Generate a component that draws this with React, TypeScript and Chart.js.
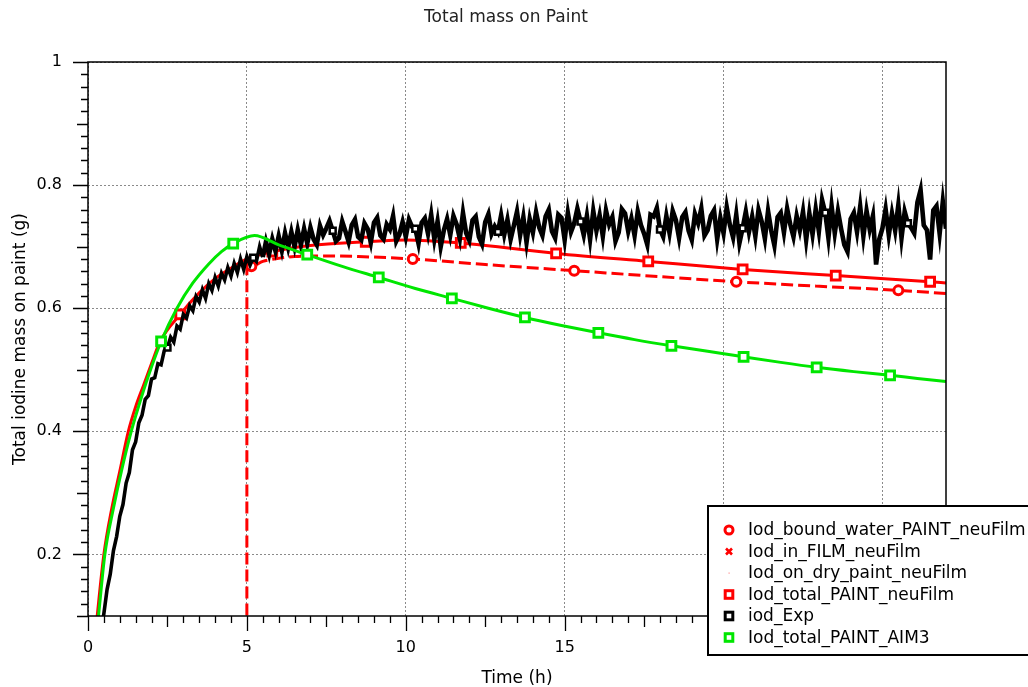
import { useEffect, useRef } from 'react';
import { Chart, registerables } from 'chart.js';

Chart.register(...registerables);

// ---------- text ----------
const chartTitle = 'Total mass on Paint';
const xAxisTitle = 'Time (h)';
const yAxisTitle = 'Total iodine mass on paint (g)';
const xTickValues = [0, 5, 10, 15, 20, 25];
const yTickValues = [0.2, 0.4, 0.6, 0.8, 1];
const seriesNames = [
  'Iod_bound_water_PAINT_neuFilm',
  'Iod_in_FILM_neuFilm',
  'Iod_on_dry_paint_neuFilm',
  'Iod_total_PAINT_neuFilm',
  'iod_Exp',
  'Iod_total_PAINT_AIM3',
];

// ---------- data ----------
// Iod_bound_water_PAINT_neuFilm (red dashed, circles)
const boundWaterTime = [0, 4.999, 5.0, 5.14, 5.5, 6.0, 6.5, 7.5, 8.5, 10.22, 12.5, 15.3, 17.8, 20.4, 22.9, 25.5, 27];
const boundWaterMass = [0, 0, 0.663, 0.668, 0.676, 0.681, 0.684, 0.685, 0.684, 0.68, 0.671, 0.661, 0.652, 0.643, 0.636, 0.629, 0.624];
const boundWaterMarkerTimes = [5.14, 10.22, 15.3, 20.4, 25.5];

// Iod_in_FILM_neuFilm (below the visible range)
const filmTime = [0, 1, 2, 3, 4, 5, 5.01, 10, 15, 20, 27];
const filmMass = [0, 0.01, 0.015, 0.018, 0.02, 0.021, 0, 0, 0, 0, 0];

// Iod_on_dry_paint_neuFilm (below the visible range)
const dryPaintTime = [0, 5, 10, 15, 20, 27];
const dryPaintMass = [0, 0.017, 0.031, 0.027, 0.02, 0.017];

// Iod_total_PAINT_neuFilm (red solid, squares)
const totalNeuTime = [0.1, 0.29, 0.5, 0.75, 1.0, 1.27, 1.5, 1.75, 2.0, 2.27, 2.9, 3.5, 4.0, 4.5, 5.0, 5.8, 7.0, 8.74, 10.0, 11.73, 14.73, 17.63, 20.6, 23.53, 26.5, 27];
const totalNeuMass = [0, 0.1, 0.2, 0.275, 0.335, 0.4, 0.44, 0.475, 0.51, 0.546, 0.59, 0.625, 0.648, 0.665, 0.68, 0.692, 0.702, 0.708, 0.711, 0.706, 0.689, 0.676, 0.663, 0.653, 0.643, 0.641];
const totalNeuMarkerTimes = [2.9, 5.8, 8.74, 11.73, 14.73, 17.63, 20.6, 23.53, 26.5];

// Iod_total_PAINT_AIM3 (green, squares)
const aim3Time = [0.12, 0.33, 0.53, 0.8, 1.05, 1.35, 1.6, 1.9, 2.3, 2.8, 3.3, 3.8, 4.2, 4.57, 5.24, 6.0, 6.9, 8.0, 9.15, 10.3, 11.45, 12.6, 13.75, 14.9, 16.06, 17.2, 18.36, 19.5, 20.63, 21.8, 22.93, 24.1, 25.24, 26.1, 27];
const aim3Mass = [0, 0.1, 0.2, 0.275, 0.335, 0.398, 0.442, 0.49, 0.546, 0.6, 0.641, 0.672, 0.692, 0.705, 0.718, 0.703, 0.687, 0.668, 0.65, 0.632, 0.616, 0.6, 0.585, 0.572, 0.56, 0.549, 0.539, 0.53, 0.521, 0.512, 0.504, 0.497, 0.491, 0.486, 0.481];
const aim3MarkerTimes = [2.3, 4.57, 6.9, 9.15, 11.45, 13.75, 16.06, 18.36, 20.63, 22.93, 25.24];

// iod_Exp (black, measured every 0.1 h from 0.4 h)
const expStartTime = 0.4;
const expTimeStep = 0.1;
const expMass = [
  0.070, 0.104, 0.143, 0.168, 0.206, 0.229,
  0.262, 0.281, 0.316, 0.333, 0.370, 0.383, 0.414, 0.426, 0.452, 0.458,
  0.485, 0.487, 0.510, 0.508, 0.531, 0.536, 0.553, 0.545, 0.571, 0.566,
  0.590, 0.584, 0.604, 0.596, 0.619, 0.610, 0.630, 0.616, 0.640, 0.629,
  0.650, 0.636, 0.657, 0.646, 0.666, 0.652, 0.673, 0.658, 0.680, 0.663,
  0.684, 0.670, 0.682, 0.676, 0.700, 0.683, 0.708, 0.688, 0.712, 0.693,
  0.717, 0.694, 0.722, 0.699, 0.724, 0.700, 0.727, 0.703, 0.729, 0.705,
  0.731, 0.712, 0.703, 0.734, 0.719, 0.730, 0.742, 0.726, 0.709, 0.714,
  0.741, 0.725, 0.708, 0.735, 0.744, 0.716, 0.711, 0.738, 0.729, 0.707,
  0.739, 0.747, 0.718, 0.712, 0.736, 0.728, 0.750, 0.709, 0.720, 0.740,
  0.716, 0.744, 0.732, 0.729, 0.705, 0.739, 0.746, 0.721, 0.752, 0.712,
  0.741, 0.700, 0.727, 0.745, 0.719, 0.750, 0.736, 0.713, 0.755, 0.722,
  0.710, 0.743, 0.749, 0.716, 0.704, 0.740, 0.753, 0.721, 0.733, 0.724,
  0.751, 0.720, 0.744, 0.712, 0.734, 0.757, 0.719, 0.748, 0.707, 0.745,
  0.723, 0.756, 0.731, 0.718, 0.749, 0.760, 0.725, 0.714, 0.752, 0.747,
  0.711, 0.755, 0.724, 0.738, 0.762, 0.741, 0.719, 0.750, 0.712, 0.758,
  0.726, 0.751, 0.717, 0.759, 0.736, 0.748, 0.709, 0.723, 0.761, 0.754,
  0.725, 0.746, 0.718, 0.757, 0.735, 0.721, 0.703, 0.752, 0.749, 0.763,
  0.728, 0.716, 0.750, 0.722, 0.758, 0.743, 0.714, 0.748, 0.756, 0.726,
  0.711, 0.753, 0.738, 0.762, 0.718, 0.727, 0.750, 0.759, 0.712, 0.747,
  0.722, 0.764, 0.735, 0.715, 0.752, 0.706, 0.730, 0.757, 0.724, 0.749,
  0.717, 0.760, 0.741, 0.713, 0.758, 0.726, 0.702, 0.748, 0.755, 0.723,
  0.762, 0.736, 0.716, 0.750, 0.727, 0.757, 0.711, 0.754, 0.720, 0.761,
  0.725, 0.776, 0.755, 0.714, 0.766, 0.722, 0.758, 0.729, 0.703, 0.692,
  0.745, 0.755, 0.724, 0.765, 0.717, 0.758, 0.728, 0.750, 0.671, 0.712,
  0.730, 0.761, 0.719, 0.754, 0.726, 0.768, 0.714, 0.757, 0.738, 0.731,
  0.722, 0.772, 0.792, 0.735, 0.727, 0.679, 0.759, 0.766, 0.721, 0.773,
  0.729,
];
const expMarkerTimes = [2.5, 5.2, 7.7, 10.3, 12.9, 15.5, 18.0, 20.6, 23.2, 25.8];

// ---------- styles ----------
const RED = '#ff0000';
const GREEN = 'rgb(0,230,0)';
const BLACK = '#000000';
const FONT = '"DejaVu Sans", "Liberation Sans", sans-serif';

const toPoints = (xs: number[], ys: number[]) => xs.map((x, i) => ({ x, y: ys[i] }));
const markerRadius = (times: number[], r: number) => (c: any) => {
  const p = c.raw;
  if (!p) return 0;
  return times.some((t) => Math.abs(t - p.x) < 1e-6) ? r : 0;
};

const framePlugin = {
  id: 'frameAndTicks',
  afterDatasetsDraw(chart: any) {
    const { ctx, chartArea: a, scales } = chart;
    const xs = scales.x;
    const ys = scales.y;
    ctx.save();
    ctx.strokeStyle = '#000';
    ctx.lineWidth = 1.5;
    ctx.strokeRect(a.left, a.top, a.right - a.left, a.bottom - a.top);
    ctx.lineWidth = 1.3;
    ctx.beginPath();
    for (let k = 0; k <= 54; k++) {
      const px = Math.round(xs.getPixelForValue(k * 0.5)) + 0.5;
      const len = k % 10 === 0 ? 15 : k % 5 === 0 ? 11 : 7;
      ctx.moveTo(px, a.bottom);
      ctx.lineTo(px, a.bottom + len);
    }
    for (let k = 5; k <= 50; k++) {
      const py = Math.round(ys.getPixelForValue(k * 0.02)) + 0.5;
      const len = k % 10 === 0 ? 15 : k % 5 === 0 ? 11 : 7;
      ctx.moveTo(a.left - len, py);
      ctx.lineTo(a.left, py);
    }
    ctx.stroke();
    ctx.restore();
  },
};

const titlePlugin = {
  id: 'plainTitle',
  afterDraw(chart: any) {
    const { ctx } = chart;
    ctx.save();
    ctx.font = `17px ${FONT}`;
    ctx.fillStyle = '#222';
    ctx.textAlign = 'center';
    ctx.textBaseline = 'middle';
    ctx.fillText(chartTitle, 506, 18);
    ctx.restore();
  },
};

type MarkerKind = 'circle' | 'cross' | 'dot' | 'square';
const legendMarkers: MarkerKind[] = ['circle', 'cross', 'dot', 'square', 'square', 'square'];
const legendColors = [RED, RED, '#ff9090', RED, BLACK, GREEN];

const legendPlugin = {
  id: 'boxLegend',
  afterDraw(chart: any) {
    const { ctx, chartArea: a } = chart;
    const left = a.right - 238;
    const top = a.bottom - 110;
    ctx.save();
    ctx.fillStyle = '#fff';
    ctx.fillRect(left, top, 340, 149);
    ctx.strokeStyle = '#000';
    ctx.lineWidth = 2;
    ctx.strokeRect(left, top, 340, 149);
    ctx.font = `17px ${FONT}`;
    ctx.textBaseline = 'middle';
    ctx.textAlign = 'left';
    seriesNames.forEach((name, i) => {
      const cy = top + 24 + i * 21.5;
      const cx = left + 21;
      const col = legendColors[i];
      ctx.strokeStyle = col;
      ctx.fillStyle = '#fff';
      ctx.lineWidth = 3;
      const kind = legendMarkers[i];
      if (kind === 'circle') {
        ctx.beginPath();
        ctx.arc(cx, cy, 4, 0, Math.PI * 2);
        ctx.fill();
        ctx.stroke();
      } else if (kind === 'cross') {
        ctx.lineWidth = 2.6;
        ctx.beginPath();
        ctx.moveTo(cx - 3, cy - 3);
        ctx.lineTo(cx + 3, cy + 3);
        ctx.moveTo(cx + 3, cy - 3);
        ctx.lineTo(cx - 3, cy + 3);
        ctx.stroke();
      } else if (kind === 'dot') {
        ctx.fillStyle = col;
        ctx.fillRect(cx - 0.5, cy - 0.5, 1.2, 1.2);
      } else {
        ctx.fillRect(cx - 3.8, cy - 3.8, 7.6, 7.6);
        ctx.strokeRect(cx - 3.8, cy - 3.8, 7.6, 7.6);
      }
      ctx.fillStyle = '#000';
      ctx.fillText(name, left + 40, cy + 1);
    });
    ctx.restore();
  },
};

export default function App() {
  const canvasRef = useRef<HTMLCanvasElement | null>(null);

  useEffect(() => {
    const canvas = canvasRef.current;
    if (!canvas) return;

    const expPoints = expMass.map((m, i) => ({ x: +(expStartTime + i * expTimeStep).toFixed(2), y: m }));

    const chart = new Chart(canvas, {
      type: 'line',
      data: {
        datasets: [
          {
            label: seriesNames[5],
            data: toPoints(aim3Time, aim3Mass),
            borderColor: GREEN,
            backgroundColor: '#fff',
            borderWidth: 3,
            cubicInterpolationMode: 'monotone',
            pointStyle: 'rect',
            pointRadius: markerRadius(aim3MarkerTimes, 6.2),
            pointBorderWidth: 3,
            pointBorderColor: GREEN,
            pointBackgroundColor: '#fff',
            order: 0,
          },
          {
            label: seriesNames[4],
            data: expPoints,
            borderColor: BLACK,
            backgroundColor: '#fff',
            borderWidth: 3.4,
            segment: {
              borderWidth: (c: any) => (c.p0.parsed.x >= 5.5 ? 4.6 : 3.6),
            },
            tension: 0,
            pointStyle: 'rect',
            pointRadius: markerRadius(expMarkerTimes, 4.2),
            pointBorderWidth: 2.5,
            pointBorderColor: BLACK,
            pointBackgroundColor: '#fff',
            order: 1,
          },
          {
            label: seriesNames[0],
            data: toPoints(boundWaterTime, boundWaterMass),
            borderColor: RED,
            backgroundColor: '#fff',
            borderWidth: 3,
            borderDash: [12, 5],
            cubicInterpolationMode: 'monotone',
            pointStyle: 'circle',
            pointRadius: markerRadius(boundWaterMarkerTimes, 4.5),
            pointBorderWidth: 3,
            pointBorderColor: RED,
            pointBackgroundColor: '#fff',
            order: 2,
          },
          {
            label: seriesNames[3],
            data: toPoints(totalNeuTime, totalNeuMass),
            borderColor: RED,
            backgroundColor: '#fff',
            borderWidth: 3,
            cubicInterpolationMode: 'monotone',
            pointStyle: 'rect',
            pointRadius: markerRadius(totalNeuMarkerTimes, 6.2),
            pointBorderWidth: 3,
            pointBorderColor: RED,
            pointBackgroundColor: '#fff',
            order: 3,
          },
          {
            label: seriesNames[1],
            data: toPoints(filmTime, filmMass),
            borderColor: RED,
            borderWidth: 2,
            pointStyle: 'crossRot',
            pointRadius: 4,
            pointBorderColor: RED,
            order: 4,
          },
          {
            label: seriesNames[2],
            data: toPoints(dryPaintTime, dryPaintMass),
            borderColor: '#ff9090',
            borderWidth: 1,
            pointRadius: 1,
            order: 5,
          },
        ],
      },
      options: {
        responsive: false,
        animation: false,
        events: [],
        layout: { padding: { top: 62, right: 82, bottom: 0, left: 0 } },
        plugins: {
          legend: { display: false },
          tooltip: { enabled: false },
          title: { display: false },
        },
        scales: {
          x: {
            type: 'linear',
            min: 0,
            max: 27,
            afterBuildTicks: (s: any) => {
              s.ticks = xTickValues.map((v) => ({ value: v }));
            },
            afterFit: (s: any) => {
              s.height = 71;
            },
            grid: { color: '#8a8a8a', lineWidth: 1, drawTicks: false },
            border: { display: false, dash: [2, 2] },
            ticks: {
              padding: 22,
              maxRotation: 0,
              autoSkip: false,
              color: '#000',
              font: { family: FONT, size: 16 },
              callback: (v: any) => String(v),
            },
            title: {
              display: true,
              text: xAxisTitle,
              color: '#000',
              font: { family: FONT, size: 17 },
              padding: { top: 0, bottom: -2 },
            },
          },
          y: {
            type: 'linear',
            min: 0.1,
            max: 1,
            afterBuildTicks: (s: any) => {
              s.ticks = yTickValues.map((v) => ({ value: v }));
            },
            afterFit: (s: any) => {
              s.width = 88;
            },
            grid: { color: '#8a8a8a', lineWidth: 1, drawTicks: false },
            border: { display: false, dash: [2, 2] },
            ticks: {
              padding: 26,
              autoSkip: false,
              color: '#000',
              font: { family: FONT, size: 16 },
              callback: (v: any) => String(v),
            },
            title: {
              display: true,
              text: yAxisTitle,
              color: '#000',
              font: { family: FONT, size: 17 },
              padding: { top: 10, bottom: 0 },
            },
          },
        },
      },
      plugins: [framePlugin, titlePlugin, legendPlugin],
    } as any);

    return () => chart.destroy();
  }, []);

  return (
    <div style={{ position: 'fixed', left: 0, top: 0, width: 1028, height: 687, background: '#fff' }}>
      <canvas ref={canvasRef} width={1028} height={687} style={{ display: 'block' }} />
    </div>
  );
}
